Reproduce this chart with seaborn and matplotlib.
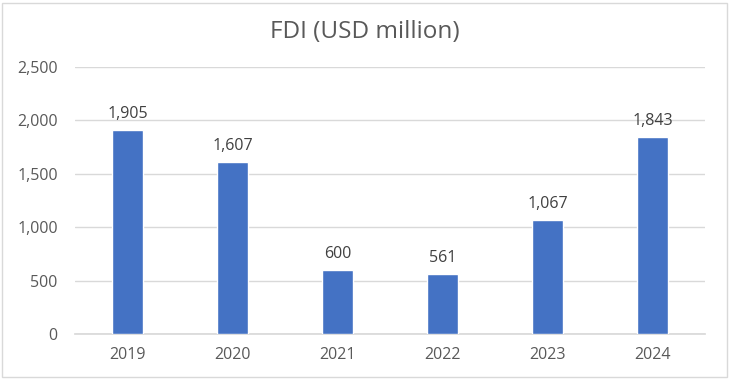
import matplotlib
matplotlib.use("Agg")
import matplotlib.pyplot as plt
import seaborn as sns
import pandas as pd
from matplotlib.patches import Rectangle

years = ["2019", "2020", "2021", "2022", "2023", "2024"]
fdi = [1905, 1607, 600, 561, 1067, 1843]
yticks = [0, 500, 1000, 1500, 2000, 2500]

df = pd.DataFrame({"year": years, "fdi": fdi})

sns.set_theme(style="white")
plt.rcParams["font.family"] = ["Open Sans", "DejaVu Sans"]

fig = plt.figure(figsize=(7.3, 3.8), dpi=100)
ax = fig.add_axes([0.103, 0.121, 0.863, 0.703])

sns.barplot(data=df, x="year", y="fdi", color="#4472C4", width=0.3,
            saturation=1, ax=ax, zorder=3)

ax.set_ylim(0, 2500)
ax.set_xlim(-0.5, 5.5)
ax.set_yticks(yticks)
ax.set_yticklabels([f"{v:,}" for v in yticks])
ax.grid(axis="y", color="#d9d9d9", linewidth=1, zorder=0)
ax.set_axisbelow(True)
for s in ["top", "right", "left"]:
    ax.spines[s].set_visible(False)
ax.spines["bottom"].set_color("#d9d9d9")
ax.tick_params(axis="both", length=0, labelsize=11.5, colors="#595959")
ax.tick_params(axis="y", pad=12.5)
ax.tick_params(axis="x", pad=9)
ax.set_xlabel("")
ax.set_ylabel("")

for i, v in enumerate(fdi):
    ax.text(i, v + 75, f"{v:,}", ha="center", va="bottom", fontsize=11.5,
            color="#404040")

fig.text(0.5, 0.916, "FDI (USD million)", ha="center", va="center",
         fontsize=17.5, color="#595959")

fig.patches.append(Rectangle((0.003, 0.008), 0.993, 0.984, transform=fig.transFigure,
                             fill=False, edgecolor="#d9d9d9", linewidth=1))

fig.savefig("out.png", dpi=100)
